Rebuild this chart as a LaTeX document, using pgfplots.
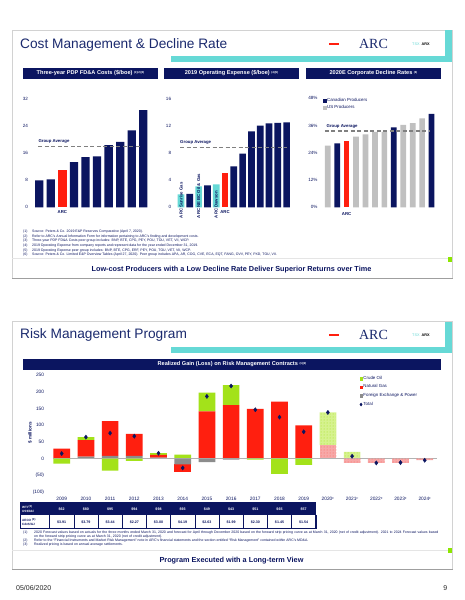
\documentclass[border=0pt]{standalone}
\usepackage{pgfplots}
\pgfplotsset{compat=1.18}
\usetikzlibrary{patterns}
\usepackage{fontspec}
\setmainfont{Liberation Sans}
\newfontfamily\seriffont{Liberation Serif}
\definecolor{navy}{HTML}{0B1560}
\definecolor{tnavy}{HTML}{1B2A6E}
\definecolor{arcred}{HTML}{FF1F0F}
\definecolor{arccyan}{HTML}{66D9D6}
\definecolor{lgray}{HTML}{C0C0C0}
\definecolor{fxgray}{HTML}{8C8C8C}
\definecolor{lime}{HTML}{A3E21A}
\definecolor{pinkf}{HTML}{F7A8A8}
\definecolor{limef}{HTML}{D6F28F}
\definecolor{greensq}{HTML}{8CE600}
\newcommand{\fs}[1]{\fontsize{#1}{#1}\selectfont}
\newcommand{\sups}[1]{\raisebox{0.45ex}{\fontsize{2.8}{2.8}\selectfont #1}}
\tikzset{lbl/.style={font=\fs{4.3}\bfseries, text=navy, inner sep=0pt}}
\pgfplotsset{
  panel/.style={scale only axis, axis line style={draw=none}, major tick length=0pt,
    xtick=\empty, ymin=0, clip=false, anchor=south west,
    yticklabel style={font=\fs{4.6}, text=navy, xshift=-2pt},
    /pgf/number format/assume math mode=true},
  bs/.style={ybar, bar shift=0pt, draw=none, fill=#1, forget plot},
  c4/.style={scale only axis, width=387.2pt, height=117pt, xmin=-0.5, xmax=15.5,
    ymin=-100, ymax=250, axis line style={draw=none}, major tick length=0pt,
    clip=false, anchor=south west, at={(c4)},
    /pgf/number format/assume math mode=true},
  avgline/.style={color=gray, line width=1.1pt, dash pattern=on 4pt off 2.5pt, forget plot},
  sqimg/.style={legend image code/.code={\fill[#1] (0pt,-1.3pt) rectangle (2.6pt,1.3pt);}},
}
\begin{document}
\begin{tikzpicture}[x=1pt,y=1pt]
\fill[white] (0,0) rectangle (464,600);
\useasboundingbox (0,0) rectangle (464,600);
\coordinate (c1) at (33.5,392.7);
\coordinate (c2) at (176.6,392.7);
\coordinate (c3) at (323,392.7);
\coordinate (c4) at (49.6,108);
% ================= TOP SLIDE =================
\draw[gray!35, line width=0.5pt] (12,570) rectangle (452,322);
\draw[gray!75, line width=1pt] (12,321.8) -- (452.5,321.8);
\fill[arccyan] (171,544) rectangle (452,538);
\fill[arccyan] (445,570) rectangle (452,538);
\node[anchor=west, inner sep=0pt, text=tnavy, font=\fs{13.7}] at (20,555) {Cost Management \& Decline Rate};
\draw[arcred, line width=1.3pt] (329,556) -- (339,556);
\node[text=tnavy, font=\seriffont\fs{14}, inner sep=0pt] at (373.5,556) {ARC};
\node[font=\fs{3.8}, inner sep=0pt] at (421,556) {{\color{arccyan}TSX}\ \ \textbf{ARX}};
% header bars
\fill[navy] (23,532) rectangle (158,521);
\fill[navy] (164,532) rectangle (299,521);
\fill[navy] (306,532) rectangle (441,521);
\node[text=white, font=\fs{5.6}\bfseries] at (90.5,526.5) {Three-year PDP FD\&A Costs (\$/boe) \sups{(1)(2)(3)}};
\node[text=white, font=\fs{5.6}\bfseries] at (231.5,526.5) {2019 Operating Expense (\$/boe) \sups{(4)(5)}};
\node[text=white, font=\fs{5.6}\bfseries] at (373.5,526.5) {2020E Corporate Decline Rates \sups{(6)}};

% ---- Chart 1
\begin{axis}[panel, at={(c1)}, width=115.6pt, height=108pt,
  xmin=0.5, xmax=10.5, ymax=32, ytick={0,8,16,24,32}]
\addplot[bs=navy, bar width=8.3pt] coordinates {(1,8.0)(2,8.3)(4,13.4)(5,14.9)(6,15.1)(7,18.4)(8,19.4)(9,22.8)(10,28.8)};
\addplot[bs=arcred, bar width=8.3pt] coordinates {(3,11.0)};
\addplot[avgline] coordinates {(0.92,18)(9.86,18)};
\node[lbl, anchor=west] at (axis cs:0.92,19.5) {Group Average};
\node[lbl, anchor=north] at (axis cs:3,-1.0) {ARC};
\end{axis}

% ---- Chart 2
\begin{axis}[panel, at={(c2)}, width=114.4pt, height=108pt,
  xmin=0.5, xmax=13.5, ymax=16, ytick={0,4,8,12,16}]
\addplot[bs=navy, bar width=6.7pt] coordinates {(2,2.0)(4,3.26)(7,6.07)(8,7.95)(9,11.26)(10,12.1)(11,12.44)(12,12.49)(13,12.59)};
\addplot[bs=arccyan, bar width=6.7pt] coordinates {(1,1.93)(3,3.1)(5,3.4)};
\addplot[bs=arcred, bar width=6.7pt] coordinates {(6,5.04)};
\addplot[avgline] coordinates {(0.89,8.9)(13.08,8.9)};
\node[lbl, anchor=west] at (axis cs:0.89,9.6) {Group Average};
\node[lbl, anchor=north] at (axis cs:6,-0.5) {ARC};
\node[lbl, rotate=90, anchor=west] at (axis cs:1,-1.63) {ARC Sunrise Gas};
\node[lbl, rotate=90, anchor=west] at (axis cs:3,-1.63) {ARC NE BC Oil \& Gas};
\node[lbl, rotate=90, anchor=west] at (axis cs:5,-1.63) {ARC Dawson};
\end{axis}

% ---- Chart 3
\begin{axis}[panel, at={(c3)}, width=113.3pt, height=109pt,
  xmin=0.5, xmax=12.5, ymax=48, ytick={0,12,24,36,48},
  yticklabel={\pgfmathprintnumber{\tick}\%},
  legend style={at={(0.0,1.01)}, anchor=north west, draw=none,
    font=\fs{4.4}, text=navy, inner sep=0pt, row sep=0.6pt, nodes={inner sep=0.9pt}},
  legend cell align=left]
\addlegendimage{legend image code/.code={\fill[navy] (0pt,-1.3pt) rectangle (2.6pt,1.3pt);}}
\addlegendentry{Canadian Producers}
\addlegendimage{legend image code/.code={\fill[lgray] (0pt,-1.3pt) rectangle (2.6pt,1.3pt);}}
\addlegendentry{US Producers}
\addplot[bs=navy, bar width=5.7pt] coordinates {(2,28.2)(8,35.2)(12,41.1)};
\addplot[bs=lgray, bar width=5.7pt] coordinates {(1,27.2)(4,31.1)(5,32.1)(6,33.2)(7,33.2)(9,36.3)(10,37.1)(11,39.2)};
\addplot[bs=arcred, bar width=5.7pt] coordinates {(3,29.2)};
\addplot[avgline] coordinates {(0.71,33.6)(11.83,33.6)};
\node[lbl, anchor=west] at (axis cs:0.87,35.5) {Group Average};
\node[lbl, anchor=north] at (axis cs:3,-2.0) {ARC};
\end{axis}

% footnotes top
\begin{scope}[every node/.style={anchor=west, inner sep=0pt, text=navy, font=\fs{3.5}}]
\node at (23,368) {(1)}; \node at (32,368) {Source: Peters \& Co. 2019 E\&P Reserves Comparative (April 7, 2020).};
\node at (23,363.5) {(2)}; \node at (32,363.5) {Refer to ARC's Annual Information Form for information pertaining to ARC's finding and development costs.};
\node at (23,359) {(3)}; \node at (32,359) {Three-year PDP FD\&A Costs peer group includes: BNP, BTE, CPG, PEY, POU, TOU, VET, VII, WCP.};
\node at (23,354.4) {(4)}; \node at (32,354.4) {2019 Operating Expense from company reports and represent data for the year ended December 31, 2019.};
\node at (23,349.9) {(5)}; \node at (32,349.9) {2019 Operating Expense peer group includes: BNP, BTE, CPG, ERF, PEY, POU, TOU, VET, VII, WCP.};
\node at (23,345.3) {(6)}; \node at (32,345.3) {Source: Peters \& Co. Limited E\&P Overview Tables (April 27, 2020). Peer group includes APA, AR, COG, CVE, ECA, EQT, FANG, OVV, PEY, PXD, TOU, VII.};
\end{scope}
\draw[gray!20, line width=0.5pt] (12,342) -- (452,342);
\fill[greensq] (448.3,343) rectangle (452,337.7);
\node[text=navy, font=\fs{7.3}\bfseries] at (231.5,330.7) {Low-cost Producers with a Low Decline Rate Deliver Superior Returns over Time};

% ================= BOTTOM SLIDE =================
\draw[gray!35, line width=0.5pt] (12,278.3) rectangle (452,31);
\draw[gray!75, line width=1pt] (12,30.8) -- (452.5,30.8);
\fill[arccyan] (171,253.3) rectangle (452,247.3);
\fill[arccyan] (445,278.3) rectangle (452,247.3);
\node[anchor=west, inner sep=0pt, text=tnavy, font=\fs{13.7}] at (20,265) {Risk Management Program};
\draw[arcred, line width=1.3pt] (329,265) -- (339,265);
\node[text=tnavy, font=\seriffont\fs{14}, inner sep=0pt] at (373.5,265) {ARC};
\node[font=\fs{3.8}, inner sep=0pt] at (421,265) {{\color{arccyan}TSX}\ \ \textbf{ARX}};
\fill[navy] (23,241.3) rectangle (441,230.3);
\node[text=white, font=\fs{5.6}\bfseries] at (232,235.8) {Realized Gain (Loss) on Risk Management Contracts \sups{(1)(2)}};

% ---- Chart 4: positive stacks
\begin{axis}[c4, ybar stacked, bar width=16.7pt,
  ytick={-100,-50,0,50,100,150,200,250},
  yticklabels={(100),(50),0,50,100,150,200,250},
  yticklabel style={font=\fs{4.8}, text=navy, xshift=-2pt},
  xtick={0,...,15},
  xticklabels={2009,2010,2011,2012,2013,2014,2015,2016,2017,2018,2019,2020\sups{F},2021\sups{F},2022\sups{F},2023\sups{F},2024\sups{F}},
  xticklabel style={font=\fs{4.8}, text=navy, yshift=-1.8pt}]
\draw[gray!60, line width=0.6pt] (axis cs:-0.35,0) -- (axis cs:15.5,0);
\addplot[fill=fxgray, draw=none] coordinates {(0,0)(1,6)(2,8)(3,8)(4,3)(5,0)(6,0)(7,0)(8,0)(9,0)(10,0)(11,0)(12,0)(13,0)(14,0)(15,0)};
\addplot[fill=arcred, draw=none] coordinates {(0,30)(1,49)(2,104)(3,66)(4,8)(5,0)(6,141)(7,160)(8,149)(9,170)(10,99)(11,0)(12,0)(13,0)(14,0)(15,0)};
\addplot[fill=lime, draw=none] coordinates {(0,0)(1,9)(2,0)(3,0)(4,5)(5,12)(6,56)(7,60)(8,0)(9,0)(10,0)(11,0)(12,0)(13,0)(14,0)(15,0)};
\addplot[fill=pinkf, draw=none, postaction={pattern=dots, pattern color=arcred!70}] coordinates {(0,0)(1,0)(2,0)(3,0)(4,0)(5,0)(6,0)(7,0)(8,0)(9,0)(10,0)(11,40)(12,0)(13,0)(14,0)(15,0)};
\addplot[fill=limef, draw=none, postaction={pattern=dots, pattern color=lime}] coordinates {(0,0)(1,0)(2,0)(3,0)(4,0)(5,0)(6,0)(7,0)(8,0)(9,0)(10,0)(11,98)(12,20)(13,0)(14,0)(15,0)};
\end{axis}
% ---- Chart 4: negative stacks
\begin{axis}[c4, hide axis, ybar stacked, bar width=16.7pt]
\addplot[fill=fxgray, draw=none] coordinates {(0,0)(1,0)(2,0)(3,0)(4,0)(5,-17)(6,-11)(7,-3)(8,0)(9,0)(10,0)(11,0)(12,0)(13,0)(14,0)(15,0)};
\addplot[fill=arcred, draw=none] coordinates {(0,0)(1,0)(2,0)(3,0)(4,0)(5,-23)(6,0)(7,0)(8,0)(9,0)(10,0)(11,0)(12,0)(13,0)(14,0)(15,0)};
\addplot[fill=lime, draw=none] coordinates {(0,-15)(1,0)(2,-36)(3,-7)(4,0)(5,0)(6,0)(7,0)(8,-3)(9,-46)(10,-19)(11,0)(12,0)(13,0)(14,0)(15,0)};
\addplot[fill=pinkf, draw=none, postaction={pattern=dots, pattern color=arcred!70}] coordinates {(0,0)(1,0)(2,0)(3,0)(4,0)(5,0)(6,0)(7,0)(8,0)(9,0)(10,0)(11,0)(12,-13)(13,-13)(14,-13)(15,-5)};
\end{axis}
% ---- Chart 4: totals + legend
\begin{axis}[c4, hide axis,
  legend style={at={(0.80,1.0)}, anchor=north west, draw=none,
    font=\fs{4.4}, text=navy, inner sep=0pt, row sep=2.2pt, nodes={inner sep=0.9pt}},
  legend cell align=left]
\addlegendimage{legend image code/.code={\fill[lime] (0pt,-1.3pt) rectangle (2.6pt,1.3pt);}}
\addlegendentry{Crude Oil}
\addlegendimage{legend image code/.code={\fill[arcred] (0pt,-1.3pt) rectangle (2.6pt,1.3pt);}}
\addlegendentry{Natural Gas}
\addlegendimage{legend image code/.code={\fill[fxgray] (0pt,-1.3pt) rectangle (2.6pt,1.3pt);}}
\addlegendentry{Foreign Exchange \& Power}
\addlegendimage{legend image code/.code={\draw[navy, fill=navy, mark=diamond*, mark size=1.5pt, only marks] plot coordinates {(1.3pt,0pt)};}}
\addlegendentry{Total}
\addplot[only marks, mark=diamond*, mark size=2.1pt, color=navy, fill=navy, forget plot] coordinates {(0,15)(1,64)(2,76)(3,67)(4,16)(5,-28)(6,186)(7,217)(8,146)(9,124)(10,80)(11,138)(12,7)(13,-13)(14,-12)(15,-5)};
\end{axis}
\node[rotate=90, text=navy, font=\fs{4.6}\bfseries] at (30,167) {\$ millions};

% ---- table
\fill[navy] (20,97.3) rectangle (315.8,85);
\draw[navy, line width=0.7pt] (20,97.3) rectangle (315.8,71.3);
\foreach \i in {0,...,11} \draw[navy, line width=0.6pt] ({49.6+24.2*\i},85) -- ({49.6+24.2*\i},71.3);
\foreach \v [count=\i from 0] in {62,80,95,94,98,93,49,43,51,65,57}
  \node[font=\fs{3.6}\bfseries, text=white] at ({61.7+24.2*\i},91.2) {\$\v};
\foreach \v [count=\i from 0] in {3.91,3.79,3.44,2.27,3.00,4.19,2.63,1.99,2.30,1.45,1.54}
  \node[font=\fs{3.6}\bfseries, text=navy] at ({61.7+24.2*\i},78.2) {\$\v};
\node[anchor=west, font=\fontsize{3.1}{3.9}\selectfont\bfseries, text=white, align=left, inner sep=0pt] at (22,91.2) {WTI \sups{(3)}\\US\$/bbl};
\node[anchor=west, font=\fontsize{3.1}{3.9}\selectfont\bfseries, text=navy, align=left, inner sep=0pt] at (22,78.2) {AECO \sups{(3)}\\Cdn\$/GJ};

% footnotes bottom
\begin{scope}[every node/.style={inner sep=0pt, text=navy}]
\node[anchor=west, font=\fs{3.5}] at (23,67.7) {(1)};
\node[anchor=north west, text width=408pt, font=\fontsize{3.5}{4.1}\selectfont] at (34,69.6) {2020 Forecast values based on actuals for the three months ended March 31, 2020 and forecast for April through December 2020 based on the forward strip pricing curve as at March 31, 2020 (net of credit adjustment). 2021 to 2024 Forecast values based on the forward strip pricing curve as at March 31, 2020 (net of credit adjustment).};
\node[anchor=west, font=\fs{3.5}] at (23,59.7) {(2)};
\node[anchor=west, font=\fs{3.5}] at (34,59.7) {Refer to the ``Financial Instruments and Market Risk Management'' note in ARC's financial statements and the section entitled ``Risk Management'' contained within ARC's MD\&A.};
\node[anchor=west, font=\fs{3.5}] at (23,55.3) {(3)};
\node[anchor=west, font=\fs{3.5}] at (34,55.3) {Realized pricing is based on annual average settlements.};
\end{scope}
\draw[gray!20, line width=0.5pt] (12,50) -- (452,50);
\fill[greensq] (448.3,52.3) rectangle (452,47.3);
\node[text=navy, font=\fs{7.3}\bfseries] at (231.5,39.3) {Program Executed with a Long-term View};

% date and page
\node[anchor=west, inner sep=0pt, font=\fs{7}, text=black!85] at (16,12.3) {05/06/2020};
\node[anchor=east, inner sep=0pt, font=\fs{7}, text=black!85] at (447.5,12.3) {9};
\end{tikzpicture}
\end{document}
